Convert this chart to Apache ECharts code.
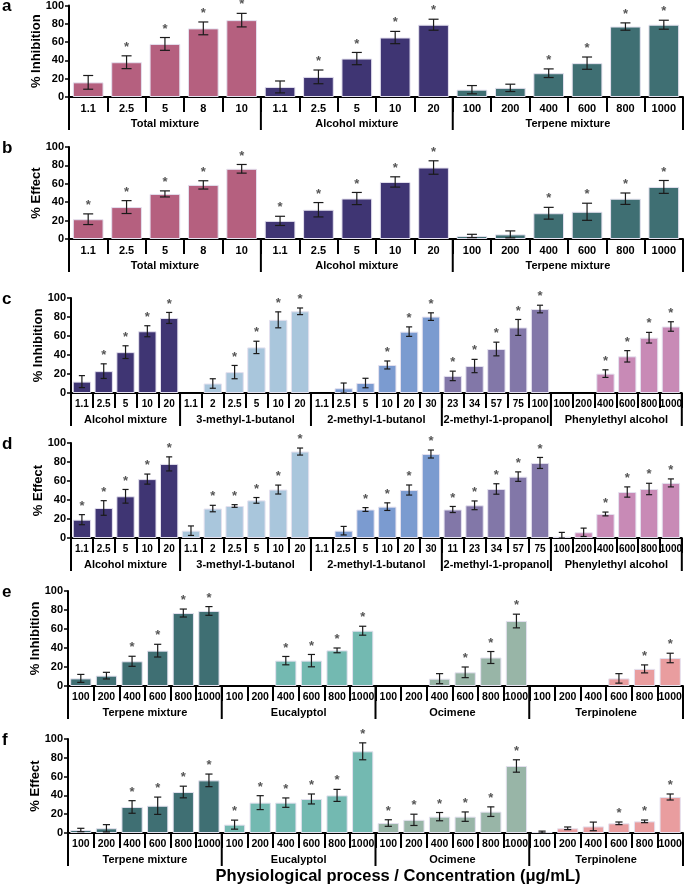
<!DOCTYPE html>
<html>
<head>
<meta charset="utf-8">
<script src="https://cdn.jsdelivr.net/npm/echarts@6/dist/echarts.min.js"></script>
<style>
html,body{margin:0;padding:0;background:#fff}
#main{width:685px;height:888px}
</style>
</head>
<body>
<div id="main"></div>
<script>
// group colours
const cTotal='#b5607f', cAlc='#3f3573', cTerp='#3f6f73', c3m1b='#a9c6dc', c2m1b='#7b9bd0',
      c2m1p='#8277a8', cPhen='#c88ab6', cEuc='#73b9b1', cOci='#98b5a7', cTpn='#e99d9f';

// panels a / b
const groupsAB=['Total mixture','Alcohol mixture','Terpene mixture'];
const sizesAB=[5,5,6];
const catsAB=['1.1','2.5','5','8','10', '1.1','2.5','5','10','20', '100','200','400','600','800','1000'];
const inhibA=[16,38,58,75,84, 11,22,42,65,79, 8,10,26,37,77,79];
const errA=[7.5,7,7,7,7.4, 6.5,7.5,6.7,6.7,6, 4.5,4,4.7,6.7,4,4.9];
const sigA=[0,1,1,1,1, 0,1,1,1,1, 0,0,1,1,1,1];
const effB=[21.5,34.7,49,58.8,76.3, 19.7,31.8,44,62,77.7, 3.3,5,28,29.6,43.8,56.6];
const errB=[5.8,7,3.3,4.5,4.7, 5,7.8,6.6,5.6,7.3, 1.8,3.8,6.4,9.3,6.2,7];
const sigB=[1,1,1,1,1, 1,1,1,1,1, 0,0,1,1,1,1];

// panels c / d
const groupsCD=['Alcohol mixture','3-methyl-1-butanol','2-methyl-1-butanol','2-methyl-1-propanol','Phenylethyl alcohol'];
const sizesCD=[5,6,6,5,6];
const catsC=['1.1','2.5','5','10','20', '1.1','2','2.5','5','10','20', '1.1','2.5','5','10','20','30',
             '23','34','57','75','100', '100','200','400','600','800','1000'];
const catsD=['1.1','2.5','5','10','20', '1.1','2','2.5','5','10','20', '1.1','2.5','5','10','20','30',
             '11','23','34','57','75', '100','200','400','600','800','1000'];
const inhibC=[12,23,43,65,79, null,10,22,48,77,86, null,5,10.5,29.5,64.6,80.4, 18,28.4,46.3,69,88.4, null,null,20.4,38.6,58.2,70];
const errC=[6.3,7.7,6.7,5.8,5.8, 0,5,7,6.5,8.4,3.5, 0,5.5,5,4.2,5,4, 5,7,7.2,8.4,4, 0,0,4,6,5.6,5];
const sigC=[0,1,1,1,1, 0,0,1,1,1,1, 0,0,0,1,1,1, 1,1,1,1,1, 0,0,1,1,1,1];
const effD=[19.3,31.6,43.9,62,78, 7.7,31,33.7,39.6,51,91, null,7.7,30,33,50.5,88.4, 30,34.4,51.6,64.6,79, 1.4,6,25.3,48.4,51.6,58];
const errD=[5.3,7.7,7.2,5.3,7.4, 5,3.4,1.4,3,4.7,3.7, 0,4.5,2,4,5.3,4.2, 3.2,4.6,5.5,5,5.8, 4.5,4.4,2,5.4,6,4.2];
const sigD=[1,1,1,1,1, 0,1,1,1,1,1, 0,0,1,1,1,1, 1,1,1,1,1, 0,0,1,1,1,1];

// panels e / f
const groupsEF=['Terpene mixture','Eucalyptol','Ocimene','Terpinolene'];
const sizesEF=[6,6,6,6];
const catsEF=['100','200','400','600','800','1000','100','200','400','600','800','1000',
              '100','200','400','600','800','1000','100','200','400','600','800','1000'];
const inhibE=[8,10.9,26,37.2,76.8,79, null,null,26.7,26.7,37.5,58.2, null,null,7.7,14.4,30,68.4, null,null,null,8,18,29.5];
const errE=[4.2,3.5,5.3,6.7,4.2,4.6, 0,0,4.4,6.5,2.5,4.7, 0,0,5.3,5.6,6.3,7.2, 0,0,0,5,4.2,5];
const sigE=[0,0,1,1,1,1, 0,0,1,1,1,1, 0,0,0,1,1,1, 0,0,0,0,1,1];
const effF=[3.2,5,27.7,29,43.6,56, 8.9,32.3,32.3,36.2,40,86.9, 10.6,14,17.4,17.4,22.7,71.3, 1,5,7,10.3,12.4,38.3];
const errF=[1.8,3.9,6.7,9.2,6.2,6.7, 4.8,7.4,5,5.3,6.4,9, 3.5,6,4.4,5,5.1,6.6, 1,1.4,4.6,1.4,1.4,3.2];
const sigF=[0,0,1,1,1,1, 1,1,1,1,1,1, 1,1,1,1,1,1, 0,0,0,1,1,1];

const FONT='Liberation Sans, Arial, sans-serif';

const panels=[
  {letter:'a', top:5,   h:92, left:69, cats:catsAB, groups:groupsAB, sizes:sizesAB, colors:[cTotal,cAlc,cTerp], vals:inhibA, errs:errA, sig:sigA, name:'% Inhibition', gap:'20%', fs:11},
  {letter:'b', top:147, h:92, left:69, cats:catsAB, groups:groupsAB, sizes:sizesAB, colors:[cTotal,cAlc,cTerp], vals:effB, errs:errB, sig:sigB, name:'% Effect', gap:'20%', fs:11},
  {letter:'c', top:298, h:95, left:71, cats:catsC, groups:groupsCD, sizes:sizesCD, colors:[cAlc,c3m1b,c2m1b,c2m1p,cPhen], vals:inhibC, errs:errC, sig:sigC, name:'% Inhibition', gap:'16%', fs:10},
  {letter:'d', top:443, h:95, left:71, cats:catsD, groups:groupsCD, sizes:sizesCD, colors:[cAlc,c3m1b,c2m1b,c2m1p,cPhen], vals:effD, errs:errD, sig:sigD, name:'% Effect', gap:'16%', fs:10},
  {letter:'e', top:591, h:95, left:68, cats:catsEF, groups:groupsEF, sizes:sizesEF, colors:[cTerp,cEuc,cOci,cTpn], vals:inhibE, errs:errE, sig:sigE, name:'% Inhibition', gap:'17%', fs:10.5},
  {letter:'f', top:739, h:94, left:68, cats:catsEF, groups:groupsEF, sizes:sizesEF, colors:[cTerp,cEuc,cOci,cTpn], vals:effF, errs:errF, sig:sigF, name:'% Effect', gap:'17%', fs:10.5}
];

function groupOf(sizes, i){
  let acc=0;
  for(let g=0;g<sizes.length;g++){ acc+=sizes[g]; if(i<acc) return g; }
  return sizes.length-1;
}

function renderErr(params, api){
  const x=api.value(0), v=api.value(1), e=api.value(2), s=api.value(3);
  const hi=api.coord([x, v+e]);
  const lo=api.coord([x, Math.max(v-e,0)]);
  const w=Math.min(api.size([1,0])[0]*0.14, 5);
  const st={stroke:'#1a1a1a', lineWidth:1.2};
  const ch=[];
  if(e>0){
    ch.push({type:'line', shape:{x1:hi[0],y1:hi[1],x2:lo[0],y2:lo[1]}, style:st});
    ch.push({type:'line', shape:{x1:hi[0]-w,y1:hi[1],x2:hi[0]+w,y2:hi[1]}, style:st});
    ch.push({type:'line', shape:{x1:lo[0]-w,y1:lo[1],x2:lo[0]+w,y2:lo[1]}, style:st});
  }
  if(s){
    ch.push({type:'text', x:hi[0], y:hi[1]-2, style:{text:'*', fill:'#555', font:'bold 13px '+FONT, align:'center', verticalAlign:'bottom'}});
  }
  return {type:'group', children:ch};
}

function makeGroupRender(p){
  return function(params, api){
    const s=api.value(0), n=api.value(1);
    const bw=api.size([1,0])[0];
    const p0=api.coord([s,0]);
    const xl=p0[0]-bw/2, xr=xl+n*bw, y=p0[1];
    const ls={stroke:'#000', lineWidth:2};
    const ch=[
      {type:'line', shape:{x1:xl,y1:y,x2:xl,y2:y+33}, style:ls},
      {type:'text', x:(xl+xr)/2, y:y+27, style:{text:p.groups[params.dataIndex], fill:'#000', font:'bold 11px '+FONT, align:'center', verticalAlign:'middle'}}
    ];
    if(params.dataIndex===p.groups.length-1){
      ch.push({type:'line', shape:{x1:xr,y1:y,x2:xr,y2:y+33}, style:ls});
    }
    return {type:'group', children:ch};
  };
}

const grid=[], xAxis=[], yAxis=[], series=[], graphic=[];

panels.forEach(function(p, k){
  grid.push({left:p.left, right:2, top:p.top, height:p.h});
  xAxis.push({
    type:'category', gridIndex:k, data:p.cats,
    axisLine:{lineStyle:{color:'#000', width:2}},
    axisTick:{show:true, interval:0, length:15, lineStyle:{color:'#000', width:2}},
    axisLabel:{interval:0, color:'#000', fontWeight:'bold', fontSize:p.fs, fontFamily:FONT, margin:6}
  });
  yAxis.push({
    type:'value', gridIndex:k, min:0, max:100, interval:20,
    name:p.name, nameLocation:'middle', nameGap:26, nameMoveOverlap:false,
    nameTextStyle:{color:'#000', fontWeight:'bold', fontSize:13, fontFamily:FONT},
    axisLine:{show:true, lineStyle:{color:'#000', width:2}},
    axisTick:{show:true, length:4, lineStyle:{color:'#000', width:1.5}},
    axisLabel:{color:'#000', fontWeight:'bold', fontSize:11, fontFamily:FONT, margin:5},
    splitLine:{show:false}
  });
  series.push({
    type:'bar', xAxisIndex:k, yAxisIndex:k, barCategoryGap:p.gap,
    data:p.vals.map(function(v,i){
      if(v==null) return '-';
      return {value:v, itemStyle:{color:p.colors[groupOf(p.sizes,i)]}};
    }),
    itemStyle:{borderColor:'#e4e1ef', borderWidth:1},
    silent:true
  });
  const ed=[];
  p.vals.forEach(function(v,i){ if(v!=null) ed.push([i, v, p.errs[i], p.sig[i]]); });
  series.push({type:'custom', xAxisIndex:k, yAxisIndex:k, data:ed, renderItem:renderErr, z:5, silent:true});
  const gd=[]; let start=0;
  p.sizes.forEach(function(n){ gd.push([start, n]); start+=n; });
  series.push({type:'custom', xAxisIndex:k, yAxisIndex:k, data:gd, renderItem:makeGroupRender(p), z:5, silent:true, clip:false});
  graphic.push({type:'text', left:2, top:p.top-7, style:{text:p.letter, fill:'#000', font:'bold 17px '+FONT}});
});

graphic.push({type:'text', x:398, y:876, style:{text:'Physiological process / Concentration (\u03bcg/mL)', fill:'#000', font:'bold 16.5px '+FONT, align:'center', verticalAlign:'middle'}});

const chart=echarts.init(document.getElementById('main'));
chart.setOption({animation:false, grid:grid, xAxis:xAxis, yAxis:yAxis, series:series, graphic:graphic});
</script>
</body>
</html>
